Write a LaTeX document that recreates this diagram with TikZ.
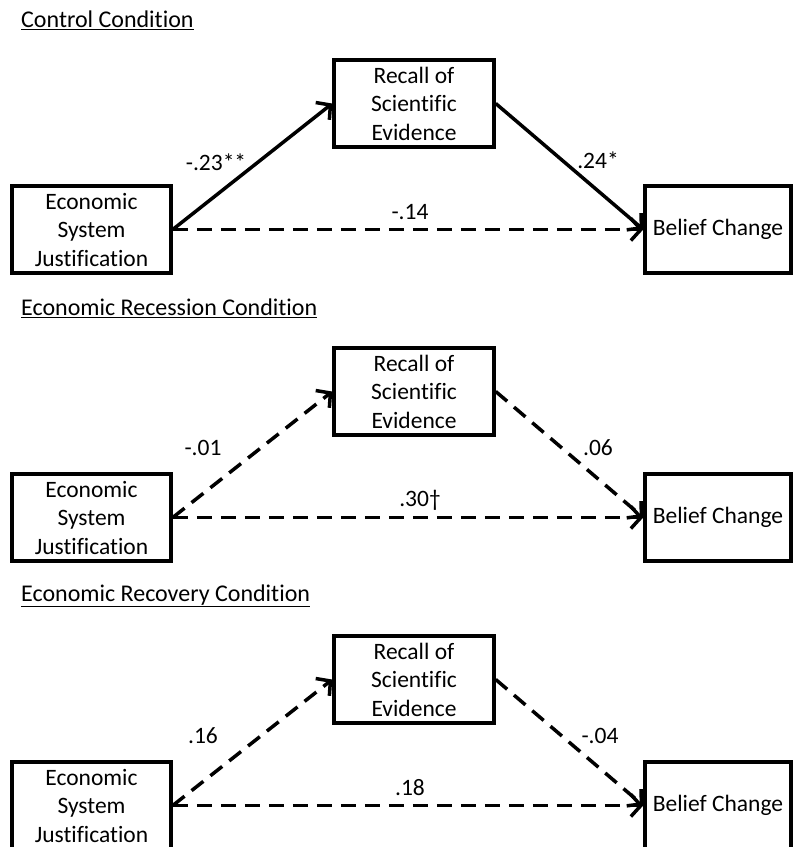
\documentclass[tikz,border=0pt]{standalone}
\usepackage{fontspec}
\setmainfont{Carlito}[Ligatures=NoCommon]
\usepackage{tikz}
\usetikzlibrary{arrows.meta}

\begin{document}
\begin{tikzpicture}[
    x=1pt, y=-1pt,
    var/.style={draw, line width=3.5pt, align=center, minimum height=87pt, font=\fontsize{23.5}{28.5}\selectfont},
    cond/.style={anchor=west, inner sep=0pt, font=\fontsize{24}{28}\selectfont},
    coef/.style={inner sep=1pt, font=\fontsize{23.5}{28}\selectfont},
    arr/.style={-{Straight Barb[length=10pt,width=22pt]}, line width=3.5pt},
    ns/.style={arr, dash pattern=on 15pt off 9pt}
]
\clip (0,0) rectangle (793,847);

% Control
\node[cond] (t1) at (21,20) {\underline{Control Condition}};
\node[var, minimum width=159pt] (esj1) at (91.5,229.5) {Economic\\System\\Justification};
\node[var, minimum width=160pt] (rec1) at (414,103.5) {Recall of\\Scientific\\Evidence};
\node[var, minimum width=146pt] (bel1) at (718,229.5) {Belief Change};
\draw[arr] (esj1.east) -- (rec1.west);
\draw[arr] (rec1.east) -- (bel1.west);
\draw[ns] (esj1.east) -- (bel1.west);
\node[coef] (a1) at (216,162) {-.23**};
\node[coef] (b1) at (598,160) {.24*};
\node[coef] (c1) at (410,212) {-.14};

% Recession
\node[cond] (t2) at (21,308) {\underline{Economic Recession Condition}};
\node[var, minimum width=159pt] (esj2) at (91.5,517.5) {Economic\\System\\Justification};
\node[var, minimum width=160pt] (rec2) at (414,391.5) {Recall of\\Scientific\\Evidence};
\node[var, minimum width=146pt] (bel2) at (718,517.5) {Belief Change};
\draw[ns] (esj2.east) -- (rec2.west);
\draw[ns] (rec2.east) -- (bel2.west);
\draw[ns] (esj2.east) -- (bel2.west);
\node[coef] (a2) at (203,448) {-.01};
\node[coef] (b2) at (598,448) {.06};
\node[coef] (c2) at (420,500) {.30\dag};

% Recovery
\node[cond] (t3) at (21,596) {\underline{Economic Recovery Condition}};
\node[var, minimum width=159pt] (esj3) at (91.5,805.5) {Economic\\System\\Justification};
\node[var, minimum width=160pt] (rec3) at (414,679.5) {Recall of\\Scientific\\Evidence};
\node[var, minimum width=146pt] (bel3) at (718,805.5) {Belief Change};
\draw[ns] (esj3.east) -- (rec3.west);
\draw[ns] (rec3.east) -- (bel3.west);
\draw[ns] (esj3.east) -- (bel3.west);
\node[coef] (a3) at (203,736) {.16};
\node[coef] (b3) at (600,736) {-.04};
\node[coef] (c3) at (410,788) {.18};
\end{tikzpicture}
\end{document}
